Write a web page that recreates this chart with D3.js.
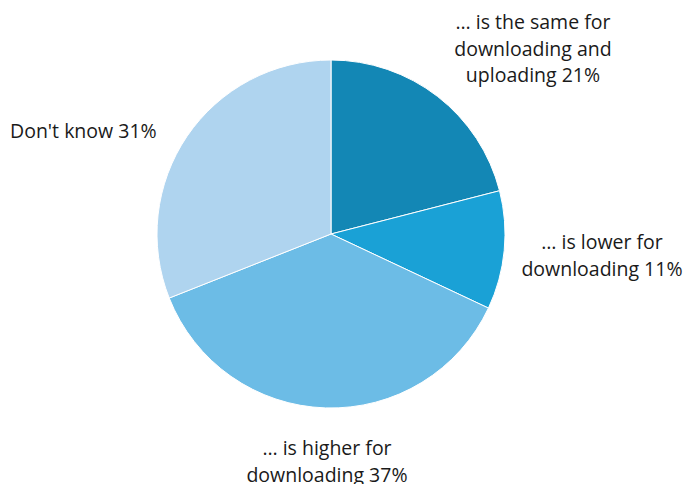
<!DOCTYPE html>
<html>
<head>
<meta charset="utf-8">
<script src="https://cdn.jsdelivr.net/npm/d3@7"></script>
<style>
  html, body { margin: 0; padding: 0; background: #fff; }
  svg text { font-family: "Open Sans", "Noto Sans", sans-serif; font-size: 19.5px; fill: #1a1a1a; }
</style>
</head>
<body>
<svg id="chart" width="684" height="484"></svg>
<script>
// Share of answers, clockwise from 12 o'clock
const categories = [
  "… is the same for downloading and uploading",
  "… is lower for downloading",
  "… is higher for downloading",
  "Don't know"
];
const values = [21, 11, 37, 31];
const colors = ["#1387b5", "#1aa1d6", "#6cbce6", "#afd4ef"];
// Label lines for each slice (the last line carries the percentage)
const labelLines = [
  ["… is the same for", "downloading and", "uploading 21%"],
  ["… is lower for", "downloading 11%"],
  ["… is higher for", "downloading 37%"],
  ["Don't know 31%"]
];
// Label anchor points and alignment
const labelPos = [
  { x: 533, y: 29, anchor: "middle" },
  { x: 602, y: 249, anchor: "middle" },
  { x: 327, y: 455, anchor: "middle" },
  { x: 10, y: 138, anchor: "start" }
];

const svg = d3.select("#chart");
const cx = 331, cy = 234, r = 174;

const pie = d3.pie().sort(null).value(d => d);
const arc = d3.arc().innerRadius(0).outerRadius(r);

const g = svg.append("g").attr("transform", `translate(${cx},${cy})`);
g.selectAll("path")
  .data(pie(values))
  .join("path")
  .attr("d", arc)
  .attr("fill", (d, i) => colors[i])
  .attr("stroke", "#fff")
  .attr("stroke-width", 1);

const lineH = 26.5;
labelLines.forEach((lines, i) => {
  const p = labelPos[i];
  const t = svg.append("text")
    .attr("x", p.x)
    .attr("y", p.y)
    .attr("text-anchor", p.anchor);
  lines.forEach((s, j) => {
    t.append("tspan")
      .attr("x", p.x)
      .attr("y", p.y + j * lineH)
      .text(s);
  });
});
</script>
</body>
</html>
